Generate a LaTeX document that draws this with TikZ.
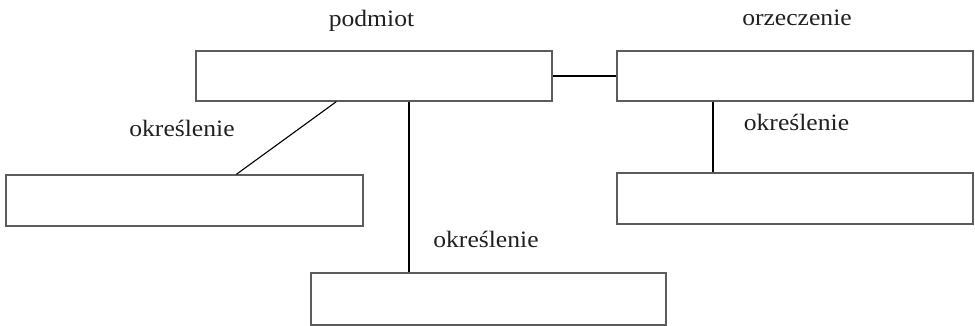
\documentclass[tikz,border=0pt]{standalone}
\usepackage{fontspec}
\setmainfont[FakeStretch=1.09]{Liberation Serif}
\begin{document}
\begin{tikzpicture}[x=1pt,y=-1pt,
  box/.style={draw=boxgray,line width=1.3pt,fill=white,rectangle,inner sep=0pt},
  conn/.style={draw=black,line width=1.9pt},
  thinconn/.style={draw=black,line width=1.1pt},
  lbl/.style={anchor=base,inner sep=0pt,text=txtgray,font=\fontsize{23.5}{28}\selectfont}]
\definecolor{boxgray}{HTML}{5C5C5C}
\definecolor{txtgray}{HTML}{231F20}
\useasboundingbox (0,0) rectangle (975,326);
% boxes
\node[box,minimum width=356pt,minimum height=50pt] (A) at (374,76) {};
\node[box,minimum width=356pt,minimum height=50pt] (B) at (795,76) {};
\node[box,minimum width=357pt,minimum height=51pt] (C) at (184.5,200.5) {};
\node[box,minimum width=356pt,minimum height=51pt] (D) at (795,198.5) {};
\node[box,minimum width=355pt,minimum height=52pt] (E) at (488.5,299) {};
% labels
\node[lbl] (lp) at (371.5,26.5) {podmiot};
\node[lbl] (lo) at (797,26) {orzeczenie};
\node[lbl] (l1) at (182,136.5) {określenie};
\node[lbl] (l2) at (796.5,131) {określenie};
\node[lbl] (l3) at (486,247.5) {określenie};
% connectors
\draw[conn] (A.east) -- (B.west);
\draw[thinconn] ([xshift=141pt]A.south west) -- ([xshift=231pt]C.north west);
\draw[conn] ([xshift=214pt]A.south west) -- ([xshift=99pt]E.north west);
\draw[conn] ([xshift=97pt]B.south west) -- ([xshift=97pt]D.north west);
\end{tikzpicture}
\end{document}
